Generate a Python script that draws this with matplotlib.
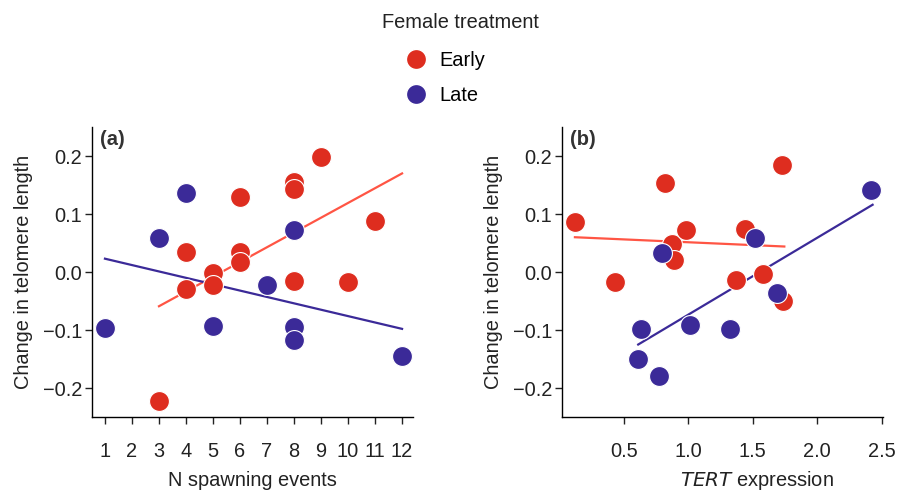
import matplotlib.pyplot as plt
from matplotlib.lines import Line2D

plt.rcParams['font.family'] = ['Liberation Sans', 'DejaVu Sans']

# ==============================
# Data
# ==============================
# (a) N spawning events
spawn_early_x = [3, 4, 4, 5, 5, 6, 6, 6, 8, 8, 8, 9, 10, 11]
spawn_early_y = [-0.223, 0.034, -0.029, -0.001, -0.022, 0.130, 0.034, 0.018,
                 0.155, 0.143, -0.015, 0.198, -0.018, 0.088]
spawn_late_x = [1, 3, 4, 5, 7, 8, 8, 8, 12]
spawn_late_y = [-0.097, 0.058, 0.136, -0.093, -0.022, 0.073, -0.095, -0.118, -0.145]
spawn_fit_early_x = [3, 12]
spawn_fit_early_y = [-0.059, 0.170]
spawn_fit_late_x = [1, 12]
spawn_fit_late_y = [0.023, -0.098]

# (b) TERT expression
tert_early_x = [0.12, 0.818, 0.433, 0.870, 0.888, 0.979, 1.437, 1.724, 1.369, 1.579, 1.737]
tert_early_y = [0.086, 0.154, -0.017, 0.048, 0.021, 0.073, 0.075, 0.185, -0.014, -0.003, -0.050]
tert_late_x = [0.798, 1.517, 1.685, 0.629, 1.012, 1.325, 0.606, 0.772, 2.415]
tert_late_y = [0.033, 0.059, -0.037, -0.098, -0.092, -0.099, -0.150, -0.179, 0.141]
tert_fit_early_x = [0.12, 1.745]
tert_fit_early_y = [0.060, 0.044]
tert_fit_late_x = [0.611, 2.43]
tert_fit_late_y = [-0.125, 0.116]

yticks = [-0.2, -0.1, 0.0, 0.1, 0.2]
ytick_labels = ['\u22120.2', '\u22120.1', '0.0', '0.1', '0.2']

red = '#DE2D1F'
blue = '#3B2A98'
red_line = '#FF5544'
blue_line = '#3B2A98'
msize = 205
fs = 14.4

fig = plt.figure(figsize=(9.09, 4.92), dpi=100)
ax_a = fig.add_axes([0.1012, 0.1524, 0.353, 0.5894])
ax_b = fig.add_axes([0.6183, 0.1524, 0.353, 0.5894])


def style_axis(ax):
    for s in ['top', 'right']:
        ax.spines[s].set_visible(False)
    for s in ['left', 'bottom']:
        ax.spines[s].set_linewidth(1.0)
    ax.set_ylim(-0.25, 0.25)
    ax.set_yticks(yticks)
    ax.set_yticklabels(ytick_labels)
    ax.tick_params(axis='y', length=5, width=1, pad=2, labelsize=fs, colors='#222222')
    ax.tick_params(axis='x', length=5, width=1, pad=13, labelsize=fs, colors='#222222')
    ax.set_ylabel('Change in telomere length', fontsize=fs, color='#222222', labelpad=7)


# panel (a)
ax_a.plot(spawn_fit_early_x, spawn_fit_early_y, color=red_line, lw=1.6, zorder=2)
ax_a.plot(spawn_fit_late_x, spawn_fit_late_y, color=blue_line, lw=1.6, zorder=2)
ax_a.scatter(spawn_early_x, spawn_early_y, s=msize, c=red, edgecolors='white', linewidths=0.8, zorder=3)
ax_a.scatter(spawn_late_x, spawn_late_y, s=msize, c=blue, edgecolors='white', linewidths=0.8, zorder=3)
ax_a.set_xlim(0.52, 12.4)
ax_a.set_xticks(range(1, 13))
style_axis(ax_a)
ax_a.set_xlabel('N spawning events', fontsize=fs, color='#222222', labelpad=7)
ax_a.text(0.025, 0.99, '(a)', transform=ax_a.transAxes, fontsize=fs, fontweight='bold',
          color='#333333', va='top', ha='left')

# panel (b)
ax_b.plot(tert_fit_early_x, tert_fit_early_y, color=red_line, lw=1.6, zorder=2)
ax_b.plot(tert_fit_late_x, tert_fit_late_y, color=blue_line, lw=1.6, zorder=2)
ax_b.scatter(tert_early_x, tert_early_y, s=msize, c=red, edgecolors='white', linewidths=0.8, zorder=3)
ax_b.scatter(tert_late_x, tert_late_y, s=msize, c=blue, edgecolors='white', linewidths=0.8, zorder=3)
ax_b.set_xlim(0.02, 2.51)
ax_b.set_xticks([0.5, 1.0, 1.5, 2.0, 2.5])
ax_b.set_xticklabels(['0.5', '1.0', '1.5', '2.0', '2.5'])
style_axis(ax_b)
ax_b.set_xlabel(r'$\it{TERT}$ expression', fontsize=fs, color='#222222', labelpad=5.5,
                x=(757 - 562) / 321)
ax_b.text(0.025, 0.99, '(b)', transform=ax_b.transAxes, fontsize=fs, fontweight='bold',
          color='#333333', va='top', ha='left')

# legend
fig.text(460 / 909, 1 - 23 / 492, 'Female treatment', fontsize=fs, color='#222222',
         ha='center', va='center')
handles = [
    Line2D([], [], marker='o', ls='', markersize=14.5, markerfacecolor=red, markeredgecolor='white'),
    Line2D([], [], marker='o', ls='', markersize=14.5, markerfacecolor=blue, markeredgecolor='white'),
]
fig.legend(handles, ['Early', 'Late'], loc='center left', bbox_to_anchor=(404 / 909, 1 - 78 / 492),
           frameon=False, fontsize=fs, handlelength=1.2, handletextpad=0.55, labelspacing=0.8,
           borderpad=0.0, borderaxespad=0.0)

fig.savefig('out.png', dpi=100)
